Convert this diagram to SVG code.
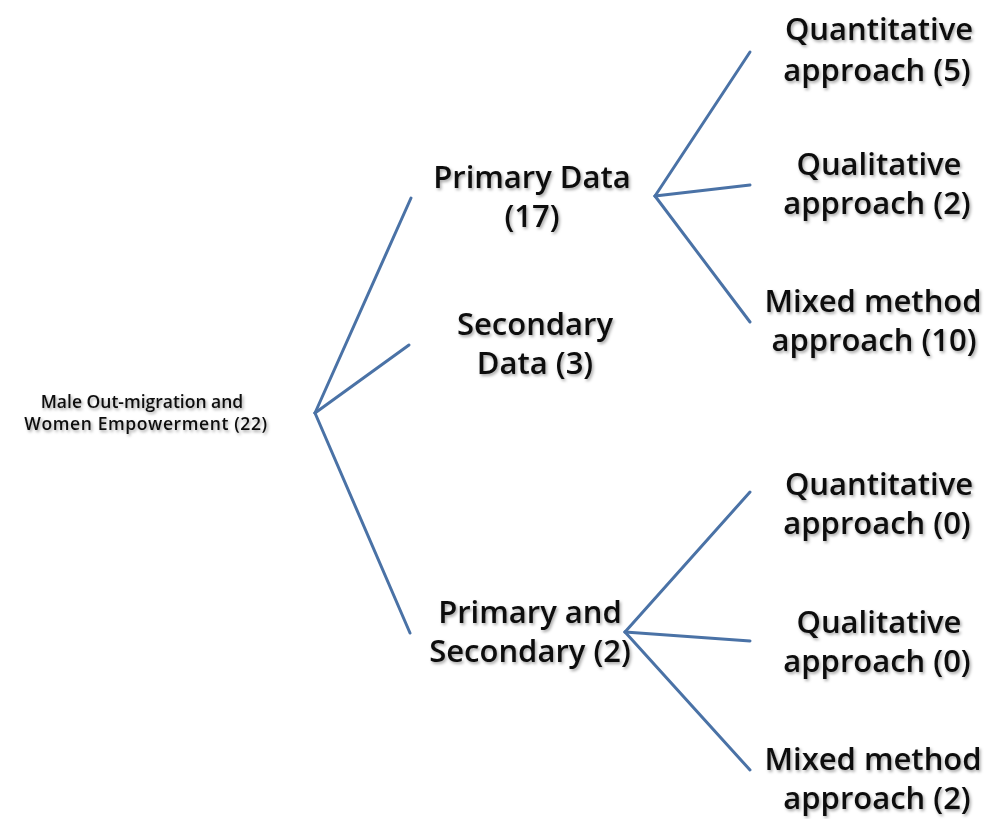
<svg xmlns="http://www.w3.org/2000/svg" width="985" height="819" viewBox="0 0 985 819">
<defs>
<filter id="sh" x="-10%" y="-20%" width="120%" height="150%">
<feDropShadow dx="1.5" dy="2" stdDeviation="1.5" flood-color="#000" flood-opacity="0.35"/>
</filter>
<style>
.t{font-family:"Open Sans","Liberation Sans",sans-serif;font-weight:600;font-size:31px;fill:#111;text-anchor:middle;filter:url(#sh)}
.s{font-size:17.5px}
.c line{stroke:#4a72a6;stroke-width:3;stroke-linecap:round}
</style>
</defs>
<rect width="985" height="819" fill="#fff"/>
<g class="c" id="connectors">
<line x1="315" y1="413" x2="411" y2="198"/>
<line x1="315" y1="413" x2="409" y2="345"/>
<line x1="315" y1="413" x2="410" y2="633"/>
<line x1="655" y1="196" x2="750" y2="52"/>
<line x1="655" y1="196" x2="750" y2="185"/>
<line x1="655" y1="196" x2="750" y2="322"/>
<line x1="625" y1="632" x2="750" y2="492"/>
<line x1="625" y1="632" x2="750" y2="641"/>
<line x1="625" y1="632" x2="750" y2="770"/>
</g>
<g id="root"><text class="t s" x="142" y="408">Male Out-migration and</text><text class="t s" x="146" y="430" letter-spacing="0.6">Women Empowerment (22)</text></g>
<g id="primary"><text class="t" x="532" y="188">Primary Data</text><text class="t" x="532" y="227">(17)</text></g>
<g id="secondary"><text class="t" x="535" y="335">Secondary</text><text class="t" x="535" y="374">Data (3)</text></g>
<g id="both"><text class="t" x="530" y="623">Primary and</text><text class="t" x="530" y="662">Secondary (2)</text></g>
<g id="p-quant"><text class="t" x="879" y="40">Quantitative</text><text class="t" x="877" y="81">approach (5)</text></g>
<g id="p-qual"><text class="t" x="879" y="175">Qualitative</text><text class="t" x="877" y="214">approach (2)</text></g>
<g id="p-mixed"><text class="t" x="873" y="312">Mixed method</text><text class="t" x="874" y="351">approach (10)</text></g>
<g id="b-quant"><text class="t" x="879" y="495">Quantitative</text><text class="t" x="877" y="534">approach (0)</text></g>
<g id="b-qual"><text class="t" x="879" y="633">Qualitative</text><text class="t" x="877" y="672">approach (0)</text></g>
<g id="b-mixed"><text class="t" x="873" y="770">Mixed method</text><text class="t" x="877" y="809">approach (2)</text></g>
</svg>
